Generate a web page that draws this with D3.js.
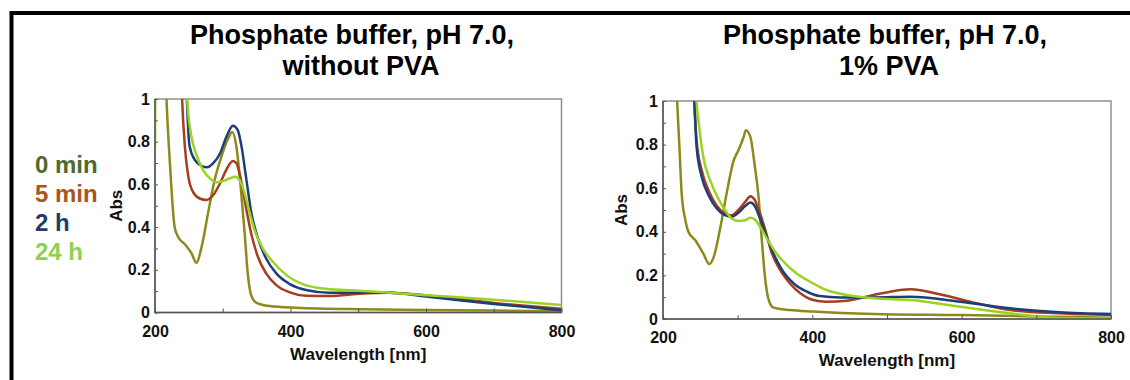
<!DOCTYPE html>
<html lang="en">
<head>
<meta charset="UTF-8">
<title>UV-Vis spectra, phosphate buffer</title>
<script src="https://cdn.jsdelivr.net/npm/d3@7/dist/d3.min.js"></script>
<style>
  body { margin: 0; background: #fff; }
  svg { display: block; font-family: "Liberation Sans", Arial, sans-serif; }
  .title { font-size: 27px; font-weight: bold; text-anchor: middle; fill: #000; }
  .legend { font-size: 24px; font-weight: bold; }
  .axis-label { font-size: 17px; font-weight: bold; text-anchor: middle; fill: #111; }
  .tick text { font-size: 16px; font-weight: bold; fill: #111; font-family: "Liberation Sans", Arial, sans-serif; }
  .tick line { stroke: #555; }
  .spec { fill: none; stroke-width: 2.5px; stroke-linejoin: round; }
</style>
</head>
<body>
<svg id="chart" width="1130" height="380"></svg>
<script>
// series names and colours
const seriesNames = ["0 min", "5 min", "2 h", "24 h"];
const lineColors = ["#8c8a1c", "#a63d1c", "#1d3f78", "#9ad320"];
const legendColors = ["#4f6a2a", "#a8571c", "#1f3c68", "#8fd14f"];

const xTicks = [200, 300, 400, 500, 600, 700, 800];
const yTicks = [0, 0.1, 0.2, 0.3, 0.4, 0.5, 0.6, 0.7, 0.8, 0.9, 1];

// without PVA  [wavelength nm, Abs]
const noPva0min = [[214,1.3],[217,1.0],[222,0.70],[229,0.40],[234,0.355],[244,0.32],[254,0.277],[261,0.233],[269,0.31],[278,0.46],[288,0.62],[298,0.73],[308,0.815],[314,0.845],[320,0.78],[327,0.57],[332,0.386],[337,0.18],[342,0.08],[350,0.045],[369,0.03],[408,0.022],[506,0.015],[600,0.012],[700,0.009],[800,0.006]];
const noPva5min = [[237,1.3],[240,1.0],[244,0.78],[249,0.64],[256,0.565],[266,0.534],[276,0.527],[286,0.55],[296,0.605],[305,0.667],[315,0.71],[320,0.70],[327,0.62],[335,0.48],[342,0.37],[352,0.26],[364,0.183],[379,0.128],[399,0.094],[423,0.078],[457,0.077],[506,0.089],[546,0.092],[600,0.08],[700,0.045],[800,0.017]];
const noPva2h = [[244,1.3],[247,1.0],[251,0.78],[259,0.714],[269,0.686],[277,0.68],[286,0.70],[296,0.745],[305,0.82],[315,0.875],[322,0.855],[327,0.79],[335,0.62],[342,0.47],[352,0.347],[364,0.253],[379,0.183],[399,0.133],[423,0.105],[457,0.092],[506,0.092],[546,0.093],[600,0.075],[700,0.04],[800,0.011]];
const noPva24h = [[200,0.76],[201,1.3],[245,1.1],[249,0.93],[254,0.82],[261,0.74],[271,0.667],[281,0.628],[291,0.61],[300,0.615],[310,0.628],[318,0.636],[325,0.62],[332,0.56],[340,0.464],[347,0.386],[359,0.30],[374,0.2375],[394,0.175],[418,0.133],[448,0.1125],[482,0.105],[526,0.097],[600,0.081],[700,0.06],[800,0.035]];

// 1% PVA
const pva0min = [[216,1.3],[219,1.0],[222,0.79],[225,0.576],[230,0.453],[234,0.40],[243,0.362],[254,0.30],[262,0.252],[268,0.285],[277,0.423],[286,0.59],[294,0.72],[301,0.774],[308,0.835],[311,0.866],[317,0.835],[323,0.70],[328,0.56],[332,0.377],[337,0.18],[341,0.095],[348,0.052],[370,0.041],[401,0.034],[482,0.023],[600,0.018],[700,0.012],[800,0.006]];
const pva5min = [[239,1.3],[242,1.0],[245,0.82],[252,0.68],[261,0.59],[272,0.52],[283,0.484],[292,0.476],[301,0.50],[310,0.537],[317,0.563],[323,0.545],[330,0.484],[337,0.408],[346,0.30],[357,0.224],[370,0.163],[384,0.118],[401,0.087],[419,0.079],[446,0.084],[482,0.11],[504,0.125],[531,0.136],[575,0.11],[620,0.072],[665,0.041],[731,0.026],[800,0.018]];
const pva2h = [[239,1.3],[242,1.0],[245,0.79],[252,0.65],[261,0.568],[272,0.507],[283,0.476],[292,0.469],[301,0.487],[310,0.518],[317,0.534],[323,0.518],[330,0.46],[339,0.377],[350,0.285],[361,0.217],[375,0.163],[393,0.125],[410,0.105],[437,0.099],[482,0.099],[531,0.102],[598,0.079],[665,0.049],[731,0.031],[800,0.023]];
const pva24h = [[242,1.3],[245,1.0],[248,0.896],[254,0.743],[263,0.637],[274,0.553],[283,0.50],[292,0.461],[301,0.45],[310,0.453],[317,0.464],[323,0.456],[330,0.423],[339,0.37],[352,0.30],[366,0.247],[379,0.209],[397,0.171],[419,0.133],[446,0.11],[482,0.095],[531,0.087],[598,0.056],[665,0.026],[731,0.004],[800,0.002]];

const svg = d3.select("#chart");

// black frame round the figure (left + top only visible)
svg.append("path")
  .attr("d", "M11.5,380V13H1130")
  .attr("fill", "none")
  .attr("stroke", "#000")
  .attr("stroke-width", 4);

// legend
seriesNames.forEach((name, i) => {
  svg.append("text")
    .attr("class", "legend")
    .attr("x", 35)
    .attr("y", 173 + i * 29)
    .attr("fill", legendColors[i])
    .text(name);
});

const panels = [
  { id: "a", title: ["Phosphate buffer, pH 7.0,", "without PVA"], titleX: [352, 361],
    left: 155, right: 561.5, top: 99, bottom: 312.5, absX: 116, labelY: 360,
    series: [noPva0min, noPva5min, noPva2h, noPva24h] },
  { id: "b", title: ["Phosphate buffer, pH 7.0,", "1% PVA"], titleX: [885, 889],
    left: 663, right: 1111, top: 101, bottom: 319, absX: 621, labelY: 366,
    series: [pva0min, pva5min, pva2h, pva24h] }
];

panels.forEach(p => {
  const g = svg.append("g");

  g.append("text").attr("class", "title").attr("x", p.titleX[0]).attr("y", 44).text(p.title[0]);
  g.append("text").attr("class", "title").attr("x", p.titleX[1]).attr("y", 75).text(p.title[1]);

  const x = d3.scaleLinear().domain([200, 800]).range([p.left, p.right]);
  const y = d3.scaleLinear().domain([0, 1]).range([p.bottom, p.top]);

  // plot box
  g.append("rect")
    .attr("x", p.left).attr("y", p.top)
    .attr("width", p.right - p.left).attr("height", p.bottom - p.top)
    .attr("fill", "#fff").attr("stroke", "#8e8e8e").attr("stroke-width", 1.5);

  g.append("clipPath").attr("id", "clip-" + p.id)
    .append("rect")
    .attr("x", p.left).attr("y", p.top)
    .attr("width", p.right - p.left).attr("height", p.bottom - p.top);

  const line = d3.line()
    .x(d => x(d[0]))
    .y(d => y(d[1]))
    .curve(d3.curveMonotoneX);

  const lines = g.append("g").attr("clip-path", `url(#clip-${p.id})`);
  p.series.forEach((s, i) => {
    lines.append("path")
      .attr("class", "spec")
      .attr("d", line(s))
      .attr("stroke", lineColors[i]);
  });

  // axes
  const yAxis = d3.axisLeft(y)
    .tickValues(yTicks)
    .tickSizeInner(-3).tickSizeOuter(0).tickPadding(5)
    .tickFormat(d => (Math.round(d * 10) % 2 ? "" : String(+d.toFixed(1))));
  g.append("g").attr("transform", `translate(${p.left},0)`).call(yAxis)
    .call(a => a.select(".domain").remove());

  const xAxis = d3.axisBottom(x)
    .tickValues(xTicks)
    .tickSizeInner(-4).tickSizeOuter(0).tickPadding(13)
    .tickFormat(d => (d % 200 === 0 ? d : ""));
  g.append("g").attr("transform", `translate(0,${p.bottom})`).call(xAxis)
    .call(a => a.select(".domain").remove());

  // dark left + bottom axis lines
  g.append("path")
    .attr("d", `M${p.left},${p.top}V${p.bottom}H${p.right}`)
    .attr("fill", "none").attr("stroke", "#555").attr("stroke-width", 1.5);

  g.append("text")
    .attr("class", "axis-label")
    .attr("transform", `translate(${p.absX},${(p.top + p.bottom) / 2}) rotate(-90)`)
    .attr("dy", "0.35em")
    .text("Abs");

  g.append("text")
    .attr("class", "axis-label")
    .attr("x", (p.left + p.right) / 2 + 0)
    .attr("y", p.labelY)
    .text("Wavelength [nm]");
});
</script>
</body>
</html>
